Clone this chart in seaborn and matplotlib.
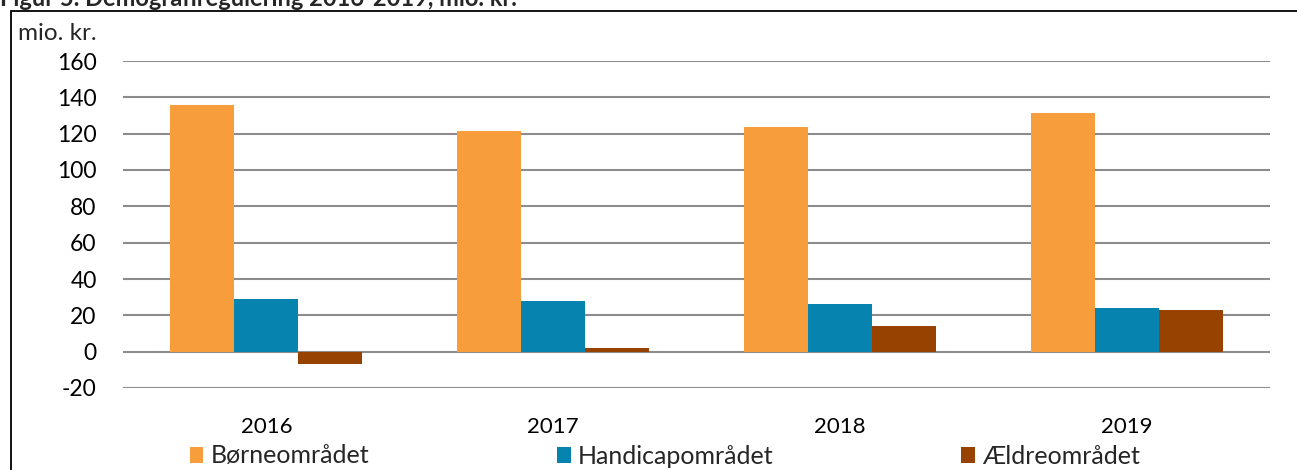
import matplotlib
matplotlib.use("Agg")
import matplotlib.pyplot as plt
import seaborn as sns
import pandas as pd
from matplotlib.patches import Rectangle

years = ["2016", "2017", "2018", "2019"]
series = ["Børneområdet", "Handicapområdet", "Ældreområdet"]
boerne = [135.8, 121.5, 123.5, 131.2]
handicap = [29.1, 27.9, 26.2, 24.2]
aeldre = [-6.7, 2.2, 14.1, 22.9]
yticks = [-20, 0, 20, 40, 60, 80, 100, 120, 140, 160]
title = "Figur 5. Demografiregulering 2016-2019, mio. kr."
unit_label = "mio. kr."
colors = ["#F79D3C", "#0783AF", "#984200"]

rows = []
for name, vals in zip(series, [boerne, handicap, aeldre]):
    for y, v in zip(years, vals):
        rows.append({"År": y, "Område": name, "Værdi": v})
df = pd.DataFrame(rows)

sns.set_theme(style="white")
plt.rcParams["font.family"] = ["Lato", "DejaVu Sans"]

W, H = 1297, 470
fig = plt.figure(figsize=(W / 100, H / 100), dpi=100)
ax = fig.add_axes([123 / W, (H - 388) / H, (1270 - 123) / W, (388 - 61) / H])

sns.barplot(data=df, x="År", y="Værdi", hue="Område", hue_order=series,
            palette=colors, width=0.67, gap=0, saturation=1, ax=ax,
            edgecolor="none", linewidth=0, errorbar=None)

ax.set_ylim(-20, 160)
ax.set_xlim(-0.5, 3.5)
ax.set_yticks(yticks)
ax.set_yticklabels([str(t) for t in yticks])
ax.set_axisbelow(True)
ax.yaxis.grid(True, color="#8C8C8C", linewidth=1.5)
ax.xaxis.grid(False)
for s in ax.spines.values():
    s.set_visible(False)
ax.tick_params(axis="y", length=0, pad=19, labelsize=16.5, labelcolor="black")
ax.tick_params(axis="x", length=0, pad=21, labelsize=16, labelcolor="black")
ax.set_xlabel("")
ax.set_ylabel("")

leg = ax.legend(loc="center", bbox_to_anchor=((665 - 123) / (1270 - 123), (388 - 456) / (388 - 61)),
                ncol=3, frameon=False, fontsize=18, handlelength=0.55, handleheight=0.6,
                handletextpad=0.3, columnspacing=7.5, borderaxespad=0)

fig.text(18 / W, (H - 33) / H, unit_label, fontsize=17.5, ha="left", va="center")
fig.text(0 / W, 1 - 6 / H, title, fontsize=17, fontweight="bold", ha="left", va="baseline")

fig.patches.append(Rectangle((10.5 / W, -0.05), 1.2, (H - 11) / H + 0.05,
                             transform=fig.transFigure, fill=False, edgecolor="black",
                             linewidth=1.3, figure=fig))

fig.savefig("out.png", dpi=100, facecolor="white")
